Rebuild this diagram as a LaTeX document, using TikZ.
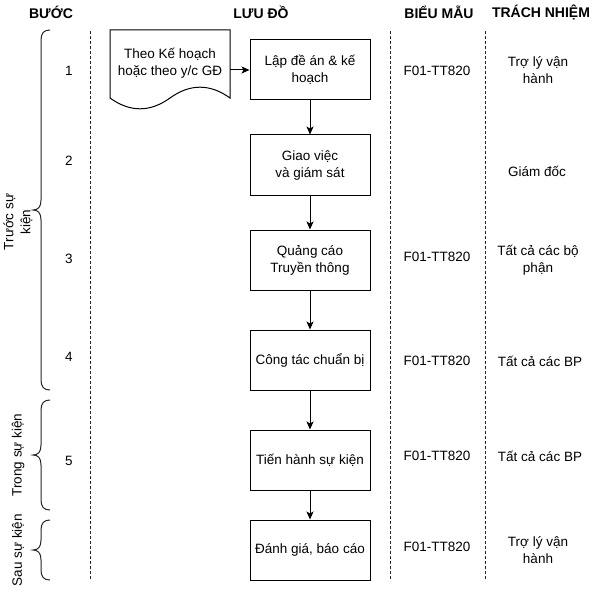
\documentclass[tikz,border=0pt]{standalone}
\usepackage{fontspec}
\setmainfont{Liberation Sans}
\usetikzlibrary{arrows.meta}
\tikzset{
  txt/.style={font=\fontsize{13.5}{17}\selectfont, align=center, inner sep=0pt},
  hdr/.style={font=\fontsize{14}{17}\selectfont\bfseries, inner sep=0pt},
  stepbox/.style={draw, line width=1pt, minimum width=120pt, minimum height=60pt, align=center, inner sep=0pt, font=\fontsize{13.5}{17}\selectfont},
  flow/.style={line width=1pt, -{Stealth[length=8pt,width=7pt,inset=2pt]}},
  sep/.style={line width=1pt, dash pattern=on 3pt off 2pt, draw=black!85},
  brace/.style={line width=1pt, draw=black!85},
}
\begin{document}
\begin{tikzpicture}[x=1pt,y=-1pt]
\useasboundingbox (0,0) rectangle (593,596);
\fill[white] (0,0) rectangle (593,596);
% headers
\node[hdr] (h1) at (51,12) {BƯỚC};
\node[hdr] (h2) at (261,12) {LƯU ĐỒ};
\node[hdr] (h3) at (439,12) {BIỂU MẪU};
\node[hdr] (h4) at (541,12) {TRÁCH NHIỆM};
% separators
\draw[sep] (90,31) -- (90,580);
\draw[sep] (390,31) -- (390,580);
\draw[sep] (485,31) -- (485,580);
% braces
\draw[brace] (50,30) .. controls (44,30) and (41,33) .. (41,40) -- (41,200)
  .. controls (41,207) and (38,210) .. (33,210)
  .. controls (38,210) and (41,213) .. (41,220) -- (41,380)
  .. controls (41,387) and (44,390) .. (50,390);
\draw[brace] (50,400) .. controls (44,400) and (41,403) .. (41,410) -- (41,445)
  .. controls (41,452) and (38,455) .. (33,455)
  .. controls (38,455) and (41,458) .. (41,465) -- (41,500)
  .. controls (41,507) and (44,510) .. (50,510);
\draw[brace] (50,520) .. controls (44,520) and (41,523) .. (41,530) -- (41,540)
  .. controls (41,547) and (38,550) .. (33,550)
  .. controls (38,550) and (41,553) .. (41,560) -- (41,570)
  .. controls (41,577) and (44,580) .. (50,580);
\node[txt, rotate=90] (p1) at (18,222) {Trước sự\\kiện};
\node[txt, rotate=90] (p2) at (18,455) {Trong sự kiện};
\node[txt, rotate=90] (p3) at (18,550) {Sau sự kiện};
% step numbers
\node[txt] (s1) at (69,71) {1};
\node[txt] (s2) at (69,161) {2};
\node[txt] (s3) at (69,259) {3};
\node[txt] (s4) at (69,357) {4};
\node[txt] (s5) at (69,461) {5};
% document shape
\node[minimum width=120pt, minimum height=80pt, inner sep=0pt] (doc) at (170,70) {};
\draw[line width=1pt] (110,30) -- (230,30) -- (230,98)
  .. controls (210,83.6) and (190,83.6) .. (170,98)
  .. controls (150,112.4) and (130,112.4) .. (110,98) -- cycle;
\node[txt] (doctext) at (170,63) {Theo Kế hoạch\\hoặc theo y/c GĐ};
% flow boxes
\node[stepbox] (b1) at (310,70) {Lập đề án \& kế\\hoạch};
\node[stepbox] (b2) at (310,165) {Giao việc\\và giám sát};
\node[stepbox] (b3) at (310,260) {Quảng cáo\\Truyền thông};
\node[stepbox] (b4) at (310,360) {Công tác chuẩn bị};
\node[stepbox] (b5) at (310,460) {Tiến hành sự kiện};
\node[stepbox] (b6) at (310,550) {Đánh giá, báo cáo};
\draw[flow] (doc.east) -- (b1.west);
\draw[flow] (b1) -- (b2);
\draw[flow] (b2) -- (b3);
\draw[flow] (b3) -- (b4);
\draw[flow] (b4) -- (b5);
\draw[flow] (b5) -- (b6);
% forms
\node[txt] (f1) at (437,71) {F01-TT820};
\node[txt] (f3) at (437,257) {F01-TT820};
\node[txt] (f4) at (437,361) {F01-TT820};
\node[txt] (f5) at (437,456) {F01-TT820};
\node[txt] (f6) at (437,547) {F01-TT820};
% responsibility
\node[txt] (r1) at (538,70) {Trợ lý vận\\hành};
\node[txt] (r2) at (537,171) {Giám đốc};
\node[txt] (r3) at (538,260) {Tất cả các bộ\\phận};
\node[txt] (r4) at (540,361) {Tất cả các BP};
\node[txt] (r5) at (540,456) {Tất cả các BP};
\node[txt] (r6) at (538,550) {Trợ lý vận\\hành};
\end{tikzpicture}
\end{document}
